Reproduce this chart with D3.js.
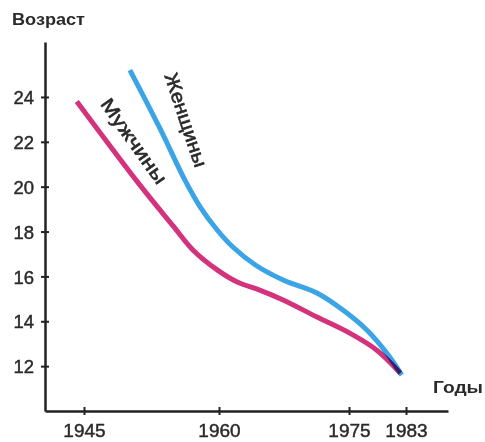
<!DOCTYPE html>
<html>
<head>
<meta charset="utf-8">
<script src="https://cdn.jsdelivr.net/npm/d3@7"></script>
<style>
  body { margin: 0; background: #fff; }
  svg { display: block; }
  text { font-family: "Liberation Sans", Arial, sans-serif; fill: #2a2a2a; }
</style>
</head>
<body>
<svg id="chart" width="485" height="442"></svg>
<script>
// ---- Data ----
const yearTicks = [1945, 1960, 1975, 1983];
const ageTicks = [12, 14, 16, 18, 20, 22, 24];

const menYears = [1944.2, 1951.2, 1954.9, 1957.1, 1959.8, 1962.1, 1964.7, 1967.4, 1971.3, 1975.1, 1978.9, 1982.2];
const menAges  = [23.8,   20.08,  18.25,  17.18,  16.29,  15.75,  15.39,  14.95,  14.19,  13.47,  12.71,  11.69];

const womenYears = [1950.1, 1953.4, 1956.2, 1957.9, 1959.8, 1961.6, 1964.2, 1967.4, 1971.3, 1974.3, 1977.5, 1980.3, 1982.4];
const womenAges  = [25.2,   22.63,  20.3,   19.1,   18.07,  17.31,  16.51,  15.84,  15.26,  14.5,   13.61,  12.58,  11.6];

const seriesNames = ["Мужчины", "Женщины"];
const yTitle = "Возраст";
const xTitle = "Годы";

// ---- Scales ----
const svg = d3.select("#chart");
const x = d3.scaleLinear()
  .domain([1940.67, 1945, 1960, 1975, 1983, 1988.9])
  .range([45, 84, 219, 349, 406, 448]);
const y = d3.scaleLinear().domain([10, 26.45]).range([411, 42]);

const axisColor = "#222";
const textStyle = sel => sel
  .style("font-family", "Liberation Sans, Arial, sans-serif")
  .attr("fill", "#2a2a2a").attr("stroke", "#2a2a2a").attr("stroke-width", 0.45);

// ---- Y axis ----
const gy = svg.append("g").attr("transform", `translate(${x.range()[0]},0)`)
  .call(d3.axisLeft(y).tickValues(ageTicks).tickSize(0).tickPadding(11).tickSizeOuter(0));
gy.select(".domain").attr("stroke", axisColor).attr("stroke-width", 2.5);
gy.selectAll(".tick line").attr("x1", -4).attr("x2", 4).attr("stroke", axisColor).attr("stroke-width", 2);
gy.selectAll(".tick text").style("font-size", "18.5px").attr("dy", "0.36em").call(textStyle);

// ---- X axis ----
const gx = svg.append("g").attr("transform", `translate(0,${y.range()[0]})`)
  .call(d3.axisBottom(x).tickValues(yearTicks).tickFormat(d3.format("d")).tickSize(0).tickPadding(13).tickSizeOuter(0));
gx.select(".domain").attr("stroke", axisColor).attr("stroke-width", 2.5);
gx.selectAll(".tick line").attr("y1", -4).attr("y2", 4).attr("stroke", axisColor).attr("stroke-width", 2);
gx.selectAll(".tick text").style("font-size", "19px").attr("dy", "0.71em").call(textStyle);

// ---- Axis titles ----
svg.append("text").attr("x", 12).attr("y", 25).text(yTitle)
  .attr("textLength", 73).attr("lengthAdjust", "spacingAndGlyphs")
  .style("font-size", "16px").style("font-weight", "bold");
svg.append("text").attr("x", 433).attr("y", 393).text(xTitle)
  .attr("textLength", 50).attr("lengthAdjust", "spacingAndGlyphs")
  .style("font-size", "16px").style("font-weight", "bold");

// ---- Lines ----
const line = d3.line().x(d => x(d[0])).y(d => y(d[1])).curve(d3.curveCatmullRom.alpha(0.5));
const menData = menYears.map((v, i) => [v, menAges[i]]);
const womenData = womenYears.map((v, i) => [v, womenAges[i]]);

svg.append("path").datum(menData).attr("d", line)
  .attr("fill", "none").attr("stroke", "#d3327c").attr("stroke-width", 5);
svg.append("path").datum(womenData).attr("d", line)
  .attr("fill", "none").attr("stroke", "#3ba4e6").attr("stroke-width", 5)
  .style("mix-blend-mode", "multiply");

// ---- Rotated series labels ----
svg.append("text").text(seriesNames[0])
  .attr("transform", "translate(134,141) rotate(54.7)")
  .attr("text-anchor", "middle").attr("dy", "0.35em")
  .attr("textLength", 100).attr("lengthAdjust", "spacingAndGlyphs")
  .style("font-size", "19px").call(textStyle).attr("stroke-width", 0.6);
svg.append("text").text(seriesNames[1])
  .attr("transform", "translate(186,120) rotate(71.6)")
  .attr("text-anchor", "middle").attr("dy", "0.35em")
  .attr("textLength", 98).attr("lengthAdjust", "spacingAndGlyphs")
  .style("font-size", "19px").call(textStyle).attr("stroke-width", 0.6);
</script>
</body>
</html>
